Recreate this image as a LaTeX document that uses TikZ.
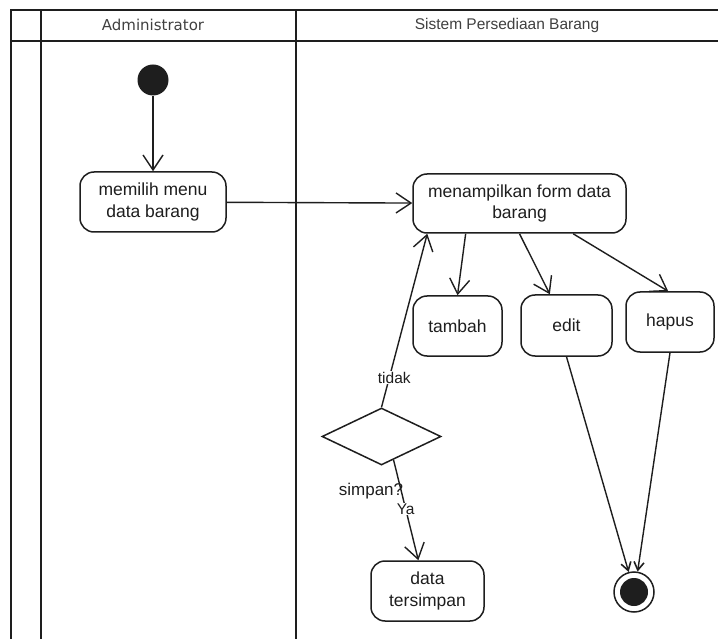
\documentclass[tikz,border=0pt]{standalone}
\usepackage{fontspec}
\setmainfont{Liberation Sans}
\newfontfamily\adminfont{DejaVu Sans}
\usetikzlibrary{arrows.meta,shapes.geometric,calc}
\definecolor{ink}{HTML}{1E1E1E}
\begin{document}
\begin{tikzpicture}[x=1pt,y=-1pt,
  frame/.style={draw=ink, line width=1.5pt},
  act/.style={draw=ink, line width=1.5pt, rounded corners=14pt, align=center, inner sep=0pt,
    text=ink, font=\fontsize{17.5}{21.5}\selectfont},
  flow/.style={draw=ink, line width=1.4pt, -{Straight Barb[length=15pt,width=20pt,line width=1.4pt]}},
  endflow/.style={draw=ink, line width=1.4pt, -{Straight Barb[length=8pt,width=10pt,line width=1.6pt]}},
  lbl/.style={text=ink, font=\fontsize{15.5}{18}\selectfont, inner sep=1pt},
  hdr/.style={text=ink!85, font=\fontsize{15.5}{18}\selectfont}]
\useasboundingbox (0,0) rectangle (718,639);
\fill[white] (0,0) rectangle (718,639);
% swimlane frame
\draw[frame] (11,639) -- (11,10) -- (718,10);
\draw[frame] (11,41) -- (718,41);
\draw[frame] (41,10) -- (41,639);
\draw[frame] (296,10) -- (296,639);
\node[hdr, font=\adminfont\fontsize{15}{18}\selectfont] (h1) at (153,25) {Administrator};
\node[hdr] (h2) at (507,25) {Sistem Persediaan Barang};
% nodes
\node[circle, fill=ink, minimum size=31pt, inner sep=0pt] (start) at (153,80) {};
\node[act, minimum width=146pt, minimum height=60pt] (menu) at (153,202) {memilih menu\\data barang};
\node[act, minimum width=213pt, minimum height=59pt] (form) at (519.5,203.5) {menampilkan form data\\barang};
\node[act, minimum width=89pt, minimum height=60pt] (tambah) at (457.5,326) {tambah};
\node[act, minimum width=91pt, minimum height=61pt] (edit) at (566.5,325.5) {edit};
\node[act, minimum width=88pt, minimum height=60pt] (hapus) at (670,322) {hapus};
\node[diamond, draw=ink, line width=1.5pt, minimum width=119pt, minimum height=57pt, inner sep=0pt] (dec) at (381.5,436.5) {};
\node[lbl, font=\fontsize{17}{20}\selectfont] (simpan) at (371,491) {simpan?};
\node[act, minimum width=113pt, minimum height=60pt] (saved) at (427.5,591) {data\\tersimpan};
\node[circle, draw=ink, line width=1.5pt, minimum size=40pt, inner sep=0pt] (end) at (634,592) {};
\fill[ink] (end.center) circle (14pt);
% edges
\draw[flow] (start) -- (menu);
\draw[flow] (menu) -- (form);
\draw[flow] ($(form.south west)!0.249!(form.south east)$) -- (tambah.north);
\draw[flow] (form.south) -- ($(edit.north west)!0.32!(edit.north east)$);
\draw[flow] ($(form.south west)!0.75!(form.south east)$) -- ($(hapus.north west)!0.48!(hapus.north east)$);
\draw[flow] (dec.north) -- node[pos=0.17, fill=white, lbl, xshift=5pt] {tidak} ($(form.south west)!0.07!(form.south east)$);
\draw[flow] ($(dec.south)!0.2!(dec.east)$) -- node[pos=0.49, fill=white, lbl] {Ya} ($(saved.north west)!0.42!(saved.north east)$);
\draw[endflow] (edit.south) -- (end.105);
\draw[endflow] (hapus.south) -- (end.80);
\end{tikzpicture}
\end{document}
